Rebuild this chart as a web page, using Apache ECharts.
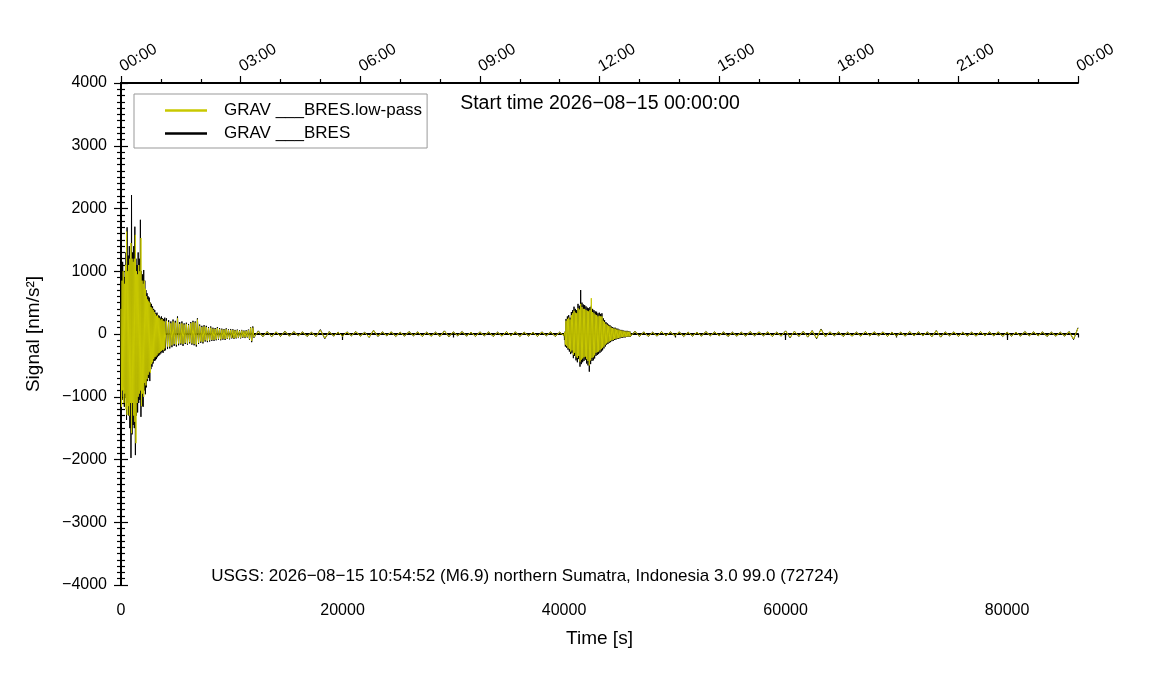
<!DOCTYPE html>
<html>
<head>
<meta charset="utf-8">
<script src="https://cdn.jsdelivr.net/npm/echarts@6/dist/echarts.min.js"></script>
<style>
html,body{margin:0;padding:0;background:#fff;}
#chart{width:1151px;height:700px;}
</style>
</head>
<body>
<div id="chart"></div>
<script>
// ---- Data ----
// Segment sample grids: start time [s] and sampling step [s]
const segA_t0 = 0,     segA_step = 50;
const segB_t0 = 4000,  segB_step = 100;
const segC_t0 = 12000, segC_step = 400;
const segD_t0 = 40000, segD_step = 60;
const segE_t0 = 46000, segE_step = 400;

// Raw signal GRAV ___BRES [nm/s^2]
const blackA = [-300, 900, -1050, 1150, -850, 1000, -1160, 900, -1000, 1300,
 -1370, 1700, -1100, 1250, -1300, 1400, -1500, 1200, -1975, 2215,
 -1600, 1300, -1450, 1400, -1500, 1710, -1930, 1200, -1300, 1100,
 -1250, 1300, -1100, 1200, -1050, 1820, -1320, 1000, -1150, 950,
 -1160, 1020, -900, 850, -960, 700, -850, 650, -750, 600,
 -700, 580, -750, 500, -560, 480, -520, 440, -470, 400,
 -430, 380, -420, 330, -400, 340, -370, 300, -350, 290,
 -330, 260, -310, 280, -290, 250, -300, 240, -270, 260];
const blackB = [-260, 250, -240, 220, -230, 200, -210, 230, -190, 210,
 -200, 280, -180, 190, -170, 200, -190, 170, -160, 180,
 -170, 160, -150, 190, -170, 210, -180, 200, -200, 250,
 -160, 150, -140, 130, -150, 140, -120, 130, -130, 110,
 -120, 120, -110, 100, -110, 95, -100, 110, -90, 95,
 -100, 85, -90, 80, -95, 90, -80, 75, -85, 80,
 -70, 75, -80, 65, -70, 70, -65, 60, -70, 65,
 -60, 55, -65, 60, -55, 70, -90, 110, -130, 120];
const blackC = [-60, 50, -45, 40, -45, 35, -40, 45, -35, 40,
 -30, 35, -40, 30, -45, 70, -75, 40, -35, 30,
 -40, 35, -30, 40, -35, 30, -55, 60, -40, 35,
 -30, 35, -40, 30, -35, 40, -30, 35, -40, 30,
 -35, 30, -40, 50, -45, 35, -30, 40, -35, 30,
 -40, 35, -30, 35, -40, 30, -35, 40, -30, 35,
 -40, 30, -35, 30, -40, 35, -30, 35, -40, 30];
const blackD = [-30, 35, -200, 240, -220, 280, -250, 300, -280, 260,
 -320, 350, -300, 380, -385, 435, -350, 400, -420, 380,
 -450, 480, -400, 450, -520, 700, -480, 500, -450, 470,
 -430, 460, -410, 440, -470, 420, -500, 410, -600, 430,
 -480, 450, -430, 400, -420, 380, -390, 360, -350, 355,
 -335, 330, -320, 340, -300, 320, -280, 330, -260, 250,
 -230, 220, -200, 190, -170, 170, -160, 150, -140, 140,
 -130, 120, -115, 110, -110, 100, -95, 100, -90, 85,
 -80, 85, -75, 70, -70, 65, -60, 65, -60, 55,
 -55, 50, -55, 50, -45, 50, -45, 40, -45, 40];
const blackE = [-40, 45, -40, 35, -40, 30, -35, 40, -30, 35,
 -30, 35, -40, 30, -35, 30, -35, 40, -30, 35,
 -30, 35, -40, 30, -35, 30, -35, 40, -30, 35,
 -30, 35, -40, 30, -35, 50, -60, 45, -40, 45,
 -50, 55, -75, 80, -45, 35, -30, 35, -40, 30,
 -35, 30, -35, 40, -30, 35, -30, 35, -40, 30,
 -35, 30, -35, 40, -30, 35, -30, 35, -45, 55,
 -50, 35, -30, 35, -40, 30, -35, 30, -35, 40,
 -30, 35, -30, 35, -40, 30, -35, 30, -35, 40,
 -30, 35, -30, 35, -40, 30, -35, 30, -35, 40,
 -90, 100];

// Low-pass signal GRAV ___BRES.low-pass [nm/s^2]
const yellowA = [400, -1160, 850, -900, 1000, -1100, 800, -950, 1100, -1200,
 1630, -1290, 1000, -1150, 1100, -1300, 1200, -1100, 1450, -1580,
 1200, -1100, 1150, -1300, 1200, -1400, 1580, -1740, 1000, -1100,
 950, -1000, 1100, -950, 1000, -900, 1530, -1150, 850, -950,
 800, -1000, 850, -780, 720, -820, 600, -720, 550, -650,
 520, -600, 500, -620, 430, -480, 410, -450, 380, -400,
 350, -370, 320, -360, 290, -340, 300, -310, 260, -300,
 250, -280, 220, -270, 240, -250, 210, -260, 200, -230];
const yellowB = [-220, 210, -200, 190, -200, 170, -180, 200, -160, 180,
 -170, 250, -150, 160, -150, 170, -160, 150, -140, 160,
 -150, 140, -130, 170, -150, 190, -160, 180, -170, 230,
 -140, 130, -120, 110, -130, 120, -100, 110, -110, 95,
 -100, 100, -95, 85, -95, 80, -85, 95, -75, 80,
 -85, 70, -75, 70, -80, 75, -70, 65, -70, 65,
 -60, 65, -70, 55, -60, 60, -55, 50, -60, 55,
 -50, 45, -55, 50, -45, 60, -80, 100, -110, 100];
const yellowC = [-50, 40, -40, 35, -40, 30, -35, 40, -30, 35,
 -25, 30, -35, 25, -40, 60, -65, 35, -30, 25,
 -35, 30, -25, 35, -30, 25, -50, 55, -35, 30,
 -25, 30, -35, 25, -30, 35, -25, 30, -35, 25,
 -30, 25, -35, 45, -40, 30, -25, 35, -30, 25,
 -35, 30, -25, 30, -35, 25, -30, 35, -25, 30,
 -35, 25, -30, 25, -35, 30, -25, 30, -35, 25];
const yellowD = [-25, 30, -170, 210, -190, 240, -220, 260, -240, 230,
 -280, 300, -260, 330, -330, 370, -300, 340, -360, 330,
 -380, 410, -350, 390, -440, 480, -410, 430, -390, 400,
 -370, 400, -360, 380, -400, 370, -430, 360, -500, 380,
 -420, 570, -380, 350, -370, 330, -340, 310, -300, 300,
 -290, 280, -280, 290, -260, 280, -240, 280, -220, 210,
 -200, 190, -170, 160, -150, 145, -135, 130, -120, 120,
 -110, 100, -100, 95, -95, 85, -80, 85, -75, 70,
 -70, 70, -65, 60, -60, 55, -50, 55, -50, 45,
 -45, 40, -45, 40, -40, 40, -40, 35, -40, 35];
const yellowE = [-35, 40, -35, 30, -35, 25, -30, 35, -25, 30,
 -25, 30, -35, 25, -30, 25, -30, 35, -25, 30,
 -25, 30, -35, 25, -30, 25, -30, 35, -25, 30,
 -25, 30, -35, 25, -30, 45, -50, 40, -35, 40,
 -45, 50, -65, 70, -40, 30, -25, 30, -35, 25,
 -30, 25, -30, 35, -25, 30, -25, 30, -35, 25,
 -30, 25, -30, 35, -25, 30, -25, 30, -40, 50,
 -45, 30, -25, 30, -35, 25, -30, 25, -30, 35,
 -25, 30, -25, 30, -35, 25, -30, 25, -30, 35,
 -25, 30, -25, 30, -35, 25, -30, 25, -30, 35,
 -80, 90];

const seriesNames = ['GRAV ___BRES.low-pass', 'GRAV ___BRES'];
const topTickLabels = ['00:00','03:00','06:00','09:00','12:00','15:00','18:00','21:00','00:00'];
const startTimeText = 'Start time 2026\u221208\u221215 00:00:00';
const eventText = 'USGS: 2026\u221208\u221215 10:54:52 (M6.9) northern Sumatra, Indonesia 3.0 99.0 (72724)';

// ---- Build series data ----
function seg(t0, step, vals) { return vals.map((v, i) => [t0 + i * step, v]); }
const blackData = [].concat(seg(segA_t0, segA_step, blackA), seg(segB_t0, segB_step, blackB),
  seg(segC_t0, segC_step, blackC), seg(segD_t0, segD_step, blackD), seg(segE_t0, segE_step, blackE));
const yellowData = [].concat(seg(segA_t0, segA_step, yellowA), seg(segB_t0, segB_step, yellowB),
  seg(segC_t0, segC_step, yellowC), seg(segD_t0, segD_step, yellowD), seg(segE_t0, segE_step, yellowE));

const FONT = '"Liberation Sans", Arial, Helvetica, sans-serif';
const YELLOW = '#c8c800';
const axisLineStyle = { color: '#000', width: 2 };
const tickStyle = { color: '#000', width: 1.2 };
const minus = v => String(v).replace('-', '\u2212');

const chart = echarts.init(document.getElementById('chart'), null, { renderer: 'canvas' });
chart.setOption({
  animation: false,
  backgroundColor: '#fff',
  textStyle: { fontFamily: FONT },
  grid: { left: 121, right: 73, top: 83, bottom: 115, containLabel: false },
  legend: {
    data: [
      { name: seriesNames[0], icon: 'rect', itemStyle: { color: YELLOW } },
      { name: seriesNames[1], icon: 'rect', itemStyle: { color: '#000' } }
    ],
    orient: 'vertical',
    left: 134, top: 94,
    padding: [7, 5, 5, 31],
    itemGap: 4,
    itemWidth: 42, itemHeight: 2.5,
    backgroundColor: '#fff',
    borderColor: '#999', borderWidth: 1,
    textStyle: { fontFamily: FONT, fontSize: 17, color: '#000', padding: [0, 0, 0, 12], lineHeight: 19 },
    selectedMode: false
  },
  xAxis: [
    {
      type: 'value', position: 'bottom', min: 0, max: 86400, interval: 20000,
      axisLine: { lineStyle: axisLineStyle },
      axisTick: { length: 6, lineStyle: tickStyle },
      axisLabel: { showMaxLabel: false, fontSize: 16, color: '#000', margin: 18, fontFamily: FONT, formatter: v => String(v) },
      splitLine: { show: false },
      name: 'Time [s]', nameLocation: 'middle', nameGap: 44,
      nameTextStyle: { fontSize: 19, color: '#000', fontFamily: FONT }
    },
    {
      type: 'value', position: 'bottom', min: 0, max: 86400, interval: 10000,
      axisLine: { show: false },
      axisTick: { length: 3.5, lineStyle: tickStyle },
      axisLabel: { show: false },
      splitLine: { show: false }
    },
    {
      type: 'value', position: 'top', min: 0, max: 86400, interval: 10800,
      axisLine: { lineStyle: axisLineStyle },
      axisTick: { length: 7, lineStyle: tickStyle },
      minorTick: { show: true, splitNumber: 3, length: 4, lineStyle: tickStyle },
      axisLabel: {
        rotate: -30, fontSize: 16, color: '#000', margin: 15, fontFamily: FONT,
        showMaxLabel: true, showMinLabel: true,
        formatter: v => topTickLabels[Math.round(v / 10800)] || ''
      },
      splitLine: { show: false }
    }
  ],
  yAxis: [
    {
      type: 'value', position: 'left', min: -4000, max: 4000, interval: 1000,
      axisLine: { lineStyle: axisLineStyle },
      axisTick: { length: 7, lineStyle: tickStyle },
      minorTick: { show: true, splitNumber: 10, length: 4, lineStyle: tickStyle },
      axisLabel: { fontSize: 16, color: '#000', margin: 14, fontFamily: FONT, formatter: minus },
      splitLine: { show: false },
      name: 'Signal [nm/s\u00b2]', nameLocation: 'middle', nameGap: 78, nameRotate: 90,
      nameTextStyle: { fontSize: 19, color: '#000', fontFamily: FONT }
    },
    {
      type: 'value', position: 'right', min: -4000, max: 4000, interval: 1000,
      axisLine: { lineStyle: axisLineStyle },
      axisTick: { length: 7, lineStyle: tickStyle },
      minorTick: { show: true, splitNumber: 10, length: 4, lineStyle: tickStyle },
      axisLabel: { show: false },
      splitLine: { show: false }
    }
  ],
  series: [
    {
      name: seriesNames[1], type: 'line', xAxisIndex: 0, yAxisIndex: 0,
      data: blackData, symbol: 'none', showSymbol: false,
      lineStyle: { color: '#000', width: 1 }, itemStyle: { color: '#000' },
      z: 2
    },
    {
      name: seriesNames[0], type: 'line', xAxisIndex: 0, yAxisIndex: 0,
      data: yellowData, symbol: 'none', showSymbol: false,
      lineStyle: { color: YELLOW, width: 1 }, itemStyle: { color: YELLOW },
      z: 3
    }
  ],
  graphic: [
    {
      type: 'text', x: 600, y: 104, z: 10,
      style: { text: startTimeText, font: '19.5px ' + FONT, fill: '#000', textAlign: 'center', textVerticalAlign: 'middle' }
    },
    {
      type: 'text', x: 525, y: 576, z: 10,
      style: { text: eventText, font: '17px ' + FONT, fill: '#000', textAlign: 'center', textVerticalAlign: 'middle' }
    }
  ]
});
</script>
</body>
</html>
